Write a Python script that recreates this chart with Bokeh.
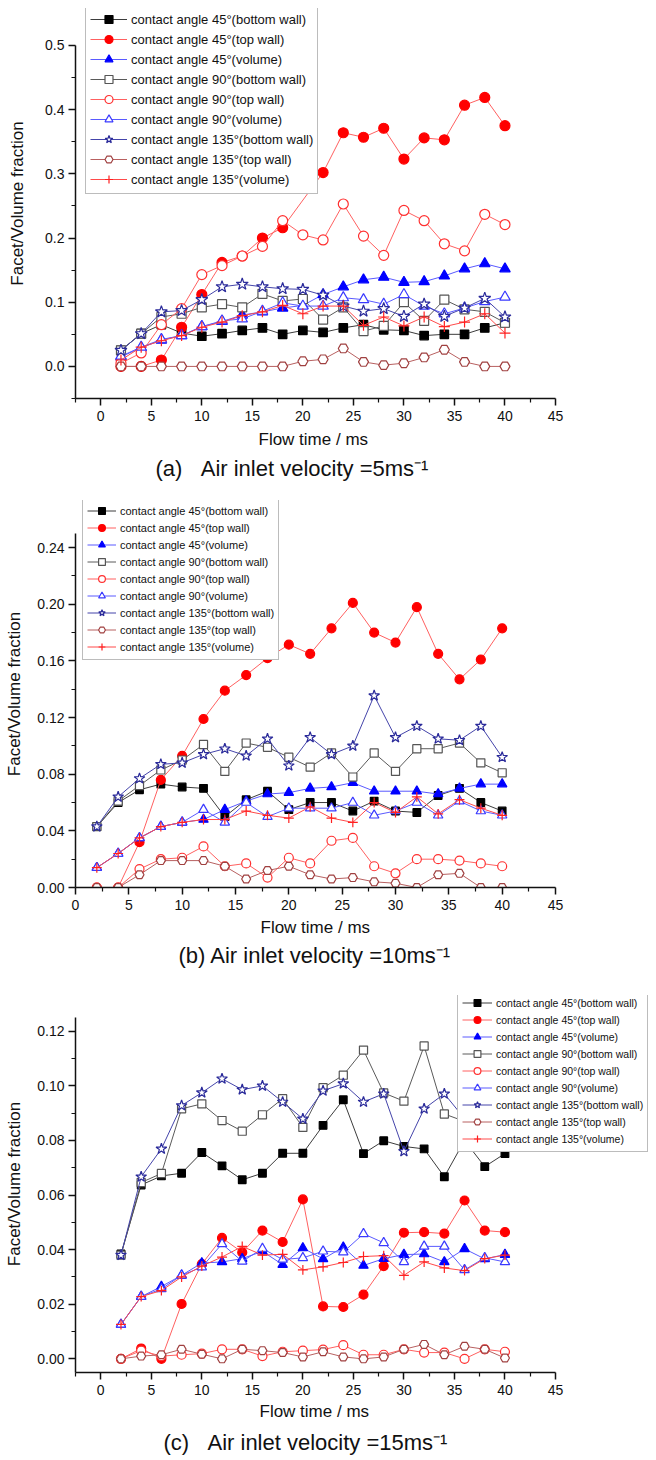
import math
from bokeh.plotting import figure
from bokeh.layouts import column
from bokeh.models import Legend, LegendItem, FixedTicker, PrintfTickFormatter, Range1d, Title
from bokeh.embed import file_html
from bokeh.resources import INLINE

time_ms = [2, 4, 6, 8, 10, 12, 14, 16, 18, 20, 22, 24, 26, 28, 30, 32, 34, 36, 38, 40]

series_labels = [
    "contact angle 45°(bottom wall)",
    "contact angle 45°(top wall)",
    "contact angle 45°(volume)",
    "contact angle 90°(bottom wall)",
    "contact angle 90°(top wall)",
    "contact angle 90°(volume)",
    "contact angle 135°(bottom wall)",
    "contact angle 135°(top wall)",
    "contact angle 135°(volume)",
]

# ---- panel (a): 5 m/s ----
a_45_bottom = [0.025, 0.051, 0.065, 0.052, 0.047, 0.051, 0.056, 0.060, 0.050, 0.056, 0.053, 0.060, 0.065, 0.057, 0.056, 0.048, 0.050, 0.050, 0.060, 0.068]
a_45_top = [0.0, 0.0, 0.010, 0.061, 0.112, 0.162, 0.172, 0.200, 0.216, None, 0.302, 0.364, 0.357, 0.371, 0.323, 0.356, 0.353, 0.407, 0.419, 0.375]
a_45_vol = [0.015, 0.029, 0.041, 0.048, 0.062, 0.070, 0.080, 0.085, 0.091, 0.095, 0.112, 0.124, 0.135, 0.139, 0.131, 0.132, 0.141, 0.152, 0.160, 0.152]
a_90_bottom = [0.025, 0.051, 0.077, 0.082, 0.092, 0.097, 0.092, 0.113, 0.102, 0.105, 0.073, 0.092, 0.055, 0.063, 0.100, 0.071, 0.104, 0.089, 0.085, 0.068]
a_90_top = [0.005, 0.021, 0.065, 0.090, 0.143, 0.157, 0.172, 0.187, 0.227, 0.205, 0.197, 0.253, 0.203, 0.173, 0.243, 0.227, 0.191, 0.180, 0.237, 0.221]
a_90_vol = [0.016, 0.030, 0.042, 0.048, 0.062, 0.071, 0.074, 0.086, 0.099, 0.094, 0.094, 0.107, 0.104, 0.097, 0.112, 0.094, 0.082, 0.091, 0.101, 0.108]
a_135_bottom = [0.025, 0.051, 0.085, 0.087, 0.104, 0.124, 0.128, 0.124, 0.121, 0.120, 0.111, 0.094, 0.086, 0.090, 0.078, 0.097, 0.078, 0.091, 0.106, 0.077]
a_135_top = [0.0, 0.0, 0.0, 0.0, 0.0, 0.0, 0.0, 0.0, 0.0, 0.008, 0.011, 0.028, 0.007, 0.002, 0.005, 0.014, 0.026, 0.007, 0.0, 0.0]
a_135_vol = [0.010, 0.030, 0.040, 0.048, 0.061, 0.069, 0.079, 0.085, 0.095, 0.082, 0.094, 0.094, 0.064, 0.077, 0.063, 0.077, 0.062, 0.069, 0.082, 0.052]

# ---- panel (b): 10 m/s ----
b_45_bottom = [0.043, 0.060, 0.069, 0.073, 0.071, 0.070, 0.050, 0.062, 0.068, 0.055, 0.060, 0.060, 0.054, 0.061, 0.054, 0.053, 0.065, 0.070, 0.060, 0.054]
b_45_top = [0.0, 0.0, 0.032, 0.076, 0.093, 0.119, 0.139, 0.150, 0.162, 0.1715, 0.165, 0.183, 0.201, 0.180, 0.173, 0.198, 0.165, 0.147, 0.161, 0.183]
b_45_vol = [0.014, 0.024, 0.035, 0.043, 0.046, 0.048, 0.055, 0.061, 0.066, 0.067, 0.070, 0.071, 0.074, 0.068, 0.068, 0.068, 0.066, 0.070, 0.073, 0.073]
b_90_bottom = [0.043, 0.061, 0.072, 0.083, 0.090, 0.101, 0.082, 0.102, 0.099, 0.092, 0.085, 0.095, 0.078, 0.095, 0.082, 0.098, 0.098, 0.102, 0.088, 0.081]
b_90_top = [0.0, 0.0, 0.013, 0.020, 0.021, 0.029, 0.015, 0.017, 0.007, 0.021, 0.017, 0.033, 0.035, 0.015, 0.010, 0.020, 0.020, 0.019, 0.017, 0.015]
b_90_vol = [0.014, 0.024, 0.035, 0.043, 0.046, 0.055, 0.046, 0.060, 0.050, 0.056, 0.056, 0.056, 0.060, 0.051, 0.054, 0.060, 0.051, 0.061, 0.054, 0.051]
b_135_bottom = [0.043, 0.064, 0.077, 0.087, 0.088, 0.094, 0.098, 0.093, 0.105, 0.086, 0.106, 0.094, 0.100, 0.1355, 0.106, 0.114, 0.105, 0.104, 0.114, 0.092]
b_135_top = [0.0, 0.0, 0.009, 0.019, 0.019, 0.019, 0.015, 0.006, 0.012, 0.015, 0.009, 0.006, 0.007, 0.004, 0.003, 0.0, 0.009, 0.010, 0.0, 0.0]
b_135_vol = [0.014, 0.024, 0.035, 0.043, 0.046, 0.048, 0.048, 0.054, 0.051, 0.049, 0.057, 0.049, 0.046, 0.060, 0.053, 0.064, 0.052, 0.062, 0.056, 0.051]

# ---- panel (c): 15 m/s ----
c_45_bottom = [0.0384, 0.0637, 0.067, 0.068, 0.0756, 0.0707, 0.0656, 0.068, 0.0753, 0.0753, 0.0855, 0.0949, 0.0752, 0.0799, 0.0778, 0.0769, 0.0667, 0.080, 0.0704, 0.0752]
c_45_top = [0.0, 0.0038, 0.0, 0.0201, 0.0347, 0.0443, 0.039, 0.047, 0.0428, 0.0584, 0.0192, 0.019, 0.0235, 0.034, 0.0462, 0.0464, 0.0459, 0.058, 0.047, 0.0464]
c_45_vol = [0.0126, 0.0228, 0.0265, 0.0306, 0.0351, 0.0355, 0.0367, 0.0394, 0.0345, 0.0406, 0.0366, 0.0409, 0.0342, 0.0367, 0.0382, 0.0384, 0.0355, 0.0403, 0.0366, 0.0382]
c_90_bottom = [0.038, 0.0646, 0.0679, 0.0916, 0.0934, 0.0873, 0.0834, 0.0894, 0.0953, 0.0848, 0.0993, 0.1039, 0.1131, 0.0974, 0.0944, 0.1146, 0.0897, 0.087, 0.085, 0.080]
c_90_top = [0.0, 0.0030, 0.001, 0.0015, 0.0019, 0.0035, 0.0035, 0.001, 0.0026, 0.003, 0.0034, 0.0050, 0.0015, 0.0015, 0.0035, 0.0023, 0.0023, 0.0, 0.0035, 0.0026]
c_90_vol = [0.0126, 0.0228, 0.0256, 0.0306, 0.0336, 0.0421, 0.0357, 0.0404, 0.0364, 0.037, 0.0394, 0.0391, 0.0458, 0.0425, 0.0355, 0.0412, 0.0412, 0.0326, 0.037, 0.0355]
c_135_bottom = [0.038, 0.0667, 0.0769, 0.0928, 0.0975, 0.1026, 0.0986, 0.1000, 0.0941, 0.0879, 0.0982, 0.1008, 0.0941, 0.0971, 0.0760, 0.0916, 0.0971, 0.088, 0.090, 0.088]
c_135_top = [0.0, 0.001, 0.0015, 0.0035, 0.0017, 0.0, 0.0035, 0.003, 0.0023, 0.0007, 0.0026, 0.0007, 0.0, 0.0007, 0.0035, 0.0053, 0.0015, 0.0046, 0.0035, 0.0003]
c_135_vol = [0.0126, 0.0228, 0.025, 0.030, 0.034, 0.0373, 0.0412, 0.0380, 0.0383, 0.0326, 0.0337, 0.0353, 0.0375, 0.0378, 0.0306, 0.0355, 0.0333, 0.0323, 0.0367, 0.0380]

x_ticks = [0, 5, 10, 15, 20, 25, 30, 35, 40, 45]
x_minor = [-2.5, 2.5, 7.5, 12.5, 17.5, 22.5, 27.5, 32.5, 37.5, 42.5]

FONT = "Liberation Sans"
NB = "\u00a0"

# marker, line colour, marker line colour, fill colour, size factor
STYLES = [
    ("square",   "#3c3c3c", "#000000", "#000000", 0.85),
    ("circle",   "#ff6060", "#ff0000", "#ff0000", 1.0),
    ("triangle", "#5a5aff", "#0000ff", "#0000ff", 1.05),
    ("square",   "#5a5a5a", "#555555", "#ffffff", 0.9),
    ("circle",   "#ff6060", "#ff3030", "#ffffff", 1.0),
    ("triangle", "#5a5aff", "#3a3aff", "#ffffff", 1.05),
    ("star",     "#4444aa", "#2a2a9a", "#ffffff", 1.25),
    ("hex",      "#b86060", "#a04040", "#ffffff", 1.0),
    ("cross",    "#ff4a4a", "#ff2020", "#ffffff", 1.1),
]


def make_panel(series, x_lo, x_hi, y_lo, y_axis_top, y_hi, y_major, y_minor, fmt,
               height, top, frame_w, frame_h, ylab_standoff,
               legend_loc, legend_font, legend_row, glyph_w, legend_pad, msize,
               xlab_off, xlab_standoff, subtitle, sub_off, sub_standoff):
    bottom = height - top - frame_h
    right = 656 - 75 - frame_w
    p = figure(width=656, height=height, frame_width=frame_w, frame_height=frame_h,
               min_border_left=75, min_border_right=right, min_border_top=top,
               min_border_bottom=bottom, x_range=Range1d(x_lo, x_hi),
               y_range=Range1d(y_lo, y_hi), output_backend="svg",
               toolbar_location=None, tools="")
    p.outline_line_color = None
    p.xgrid.visible = False
    p.ygrid.visible = False
    p.background_fill_color = "white"

    for ax in (p.xaxis[0], p.yaxis[0]):
        ax.axis_line_width = 1.5
        ax.axis_line_color = "#111111"
        ax.major_tick_line_width = 1.5
        ax.minor_tick_line_width = 1.2
        ax.major_tick_line_color = "#111111"
        ax.minor_tick_line_color = "#111111"
        ax.major_tick_in = 0
        ax.major_tick_out = 7
        ax.minor_tick_in = 0
        ax.minor_tick_out = 4
        ax.major_label_text_font = FONT
        ax.major_label_text_font_size = "14px"
        ax.major_label_text_color = "#111111"

    p.xaxis.bounds = (x_lo, 45)
    p.xaxis.ticker = FixedTicker(ticks=x_ticks, minor_ticks=[m for m in x_minor if m >= x_lo])
    p.xaxis.major_label_standoff = 5

    p.yaxis.bounds = (y_lo, y_axis_top)
    p.yaxis.ticker = FixedTicker(ticks=y_major, minor_ticks=y_minor)
    p.yaxis.formatter = PrintfTickFormatter(format=fmt)
    p.yaxis.major_label_standoff = 4
    p.yaxis.axis_label = "Facet/Volume fraction"
    p.yaxis.axis_label_text_font = FONT
    p.yaxis.axis_label_text_font_size = "17px"
    p.yaxis.axis_label_text_font_style = "normal"
    p.yaxis.axis_label_standoff = ylab_standoff
    p.yaxis.axis_label_text_color = "#111111"

    items = []
    for (ys, lab, st) in zip(series, series_labels, STYLES):
        marker, lc, mlc, fc, sf = st
        xs = [t for t, v in zip(time_ms, ys) if v is not None]
        vs = [v for v in ys if v is not None]
        r1 = p.line(xs, vs, line_color=lc, line_width=1.0)
        if marker == "cross":
            r2 = p.scatter(xs, vs, marker=marker, size=msize * sf, line_color=mlc, line_width=1.2)
        else:
            r2 = p.scatter(xs, vs, marker=marker, size=msize * sf, line_color=mlc,
                           fill_color=fc, line_width=1.2)
        items.append(LegendItem(label=lab, renderers=[r1, r2]))

    leg = Legend(items=items, location=legend_loc, margin=0, padding=legend_pad,
                 spacing=0, glyph_width=glyph_w, glyph_height=legend_row,
                 label_height=legend_row, label_standoff=4,
                 label_text_font=FONT, label_text_font_size=legend_font,
                 label_text_color="#111111",
                 border_line_color="#7a7a7a", border_line_width=1.2,
                 background_fill_color="white", background_fill_alpha=1.0)
    p.add_layout(leg, "center")

    p.add_layout(Title(text="Flow time / ms", align="left", offset=xlab_off,
                       standoff=xlab_standoff, text_font=FONT, text_font_size="17px",
                       text_font_style="normal", text_color="#111111"), "below")
    p.add_layout(Title(text=subtitle, align="left", offset=sub_off,
                       standoff=sub_standoff, text_font=FONT, text_font_size="22px",
                       text_font_style="normal", text_color="#111111"), "below")
    return p


pa = make_panel(
    [a_45_bottom, a_45_top, a_45_vol, a_90_bottom, a_90_top, a_90_vol, a_135_bottom, a_135_top, a_135_vol],
    -2.5, 45, -0.05, 0.5, 0.5576, [0.0, 0.1, 0.2, 0.3, 0.4, 0.5], [-0.05, 0.05, 0.15, 0.25, 0.35, 0.45], "%.1f",
    490, 8, 480, 390, 15,
    (10, 204), "13px", 20, 37, 4, 10,
    183, 9, "(a)" + NB * 3 + "Air inlet velocity =5ms⁻¹", 80, 0)

pb = make_panel(
    [b_45_bottom, b_45_top, b_45_vol, b_90_bottom, b_90_top, b_90_vol, b_135_bottom, b_135_top, b_135_vol],
    0, 45, 0.0, 0.25, 0.2733, [0.0, 0.04, 0.08, 0.12, 0.16, 0.20, 0.24], [0.02, 0.06, 0.10, 0.14, 0.18, 0.22], "%.2f",
    490, 10, 480, 387, 10,
    (7, 227), "11px", 17, 29, 4, 9,
    185, 7, "(b) Air inlet velocity =10ms⁻¹", 103, 0)

pc = make_panel(
    [c_45_bottom, c_45_top, c_45_vol, c_90_bottom, c_90_top, c_90_vol, c_135_bottom, c_135_top, c_135_vol],
    -2.5, 54.6, -0.005, 0.125, 0.1331, [0.0, 0.02, 0.04, 0.06, 0.08, 0.10, 0.12], [0.01, 0.03, 0.05, 0.07, 0.09, 0.11], "%.2f",
    480, 15, 577, 377, 10,
    (382, 220), "10.5px", 17, 30, 4, 9,
    184, 5, "(c)" + NB * 3 + "Air inlet velocity =15ms⁻¹", 88, 8)

layout = column(pa, pb, pc, spacing=0)
open("out.html", "w").write(file_html(layout, INLINE))
